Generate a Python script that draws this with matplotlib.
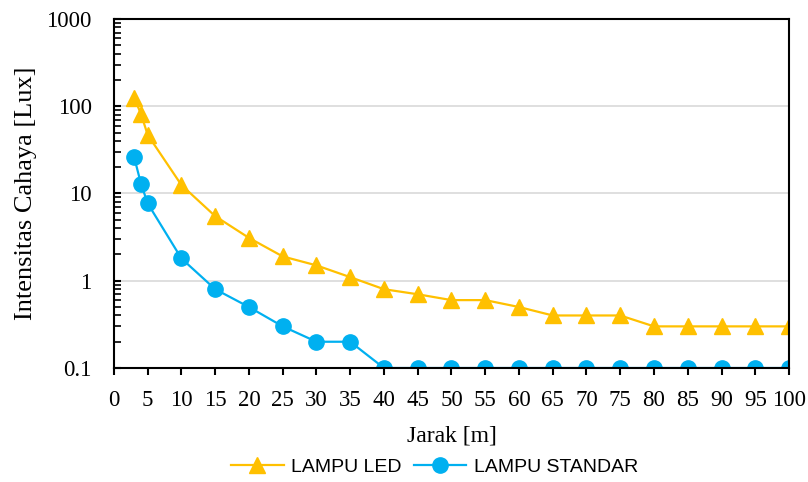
import matplotlib.pyplot as plt

jarak = [3, 4, 5, 10, 15, 20, 25, 30, 35, 40, 45, 50, 55, 60, 65, 70, 75, 80, 85, 90, 95, 100]
lampu_led = [125, 82, 47, 12.5, 5.5, 3.1, 1.9, 1.5, 1.1, 0.8, 0.7, 0.6, 0.6, 0.5, 0.4, 0.4, 0.4,
             0.3, 0.3, 0.3, 0.3, 0.3]
lampu_standar = [26, 13, 7.7, 1.8, 0.8, 0.5, 0.3, 0.2, 0.2, 0.1, 0.1, 0.1, 0.1, 0.1, 0.1, 0.1, 0.1,
                 0.1, 0.1, 0.1, 0.1, 0.1]
x_ticks = list(range(0, 101, 5))
y_ticks = [0.1, 1, 10, 100, 1000]
y_labels = ["0.1", "1", "10", "100", "1000"]

serif = "Liberation Serif"

fig = plt.figure(figsize=(8.08, 4.82), dpi=100)
ax = fig.add_axes([0.141, 0.2365, 0.8355, 0.7241])

ax.plot(jarak, lampu_led, color="#FFC000", lw=1.6, marker="^", ms=11, label="LAMPU LED")
ax.plot(jarak, lampu_standar, color="#00B0F0", lw=1.6, marker="o", ms=11, label="LAMPU STANDAR")

ax.set_yscale("log")
ax.set_ylim(0.1, 1000)
ax.set_xlim(0, 100)
ax.set_xticks(x_ticks)
ax.set_yticks(y_ticks)
ax.set_yticklabels(y_labels)
ax.grid(axis="y", which="major", color="#D9D9D9", lw=1.2)
ax.set_axisbelow(True)

for s in ax.spines.values():
    s.set_linewidth(1.5)
    s.set_color("black")

ax.tick_params(axis="x", direction="out", length=5, width=1.5, labelsize=16.5, pad=11)
ax.tick_params(axis="y", which="major", direction="in", length=5, width=1.5, labelsize=16.5, pad=16)
ax.tick_params(axis="y", which="minor", direction="in", length=5, width=1.2)
for lab in ax.get_xticklabels() + ax.get_yticklabels():
    lab.set_fontfamily(serif)

ax.set_xlabel("Jarak [m]", fontsize=17, fontfamily=serif, labelpad=10)
ax.set_ylabel("Intensitas Cahaya [Lux]", fontsize=19, fontfamily=serif, labelpad=7)

fig.legend(loc="center", bbox_to_anchor=(0.538, 0.031), ncol=2, frameon=False,
           prop={"family": "Liberation Sans", "size": 14}, handlelength=2.7, columnspacing=0.6,
           handletextpad=0.4)

fig.savefig("out.png", dpi=100)
